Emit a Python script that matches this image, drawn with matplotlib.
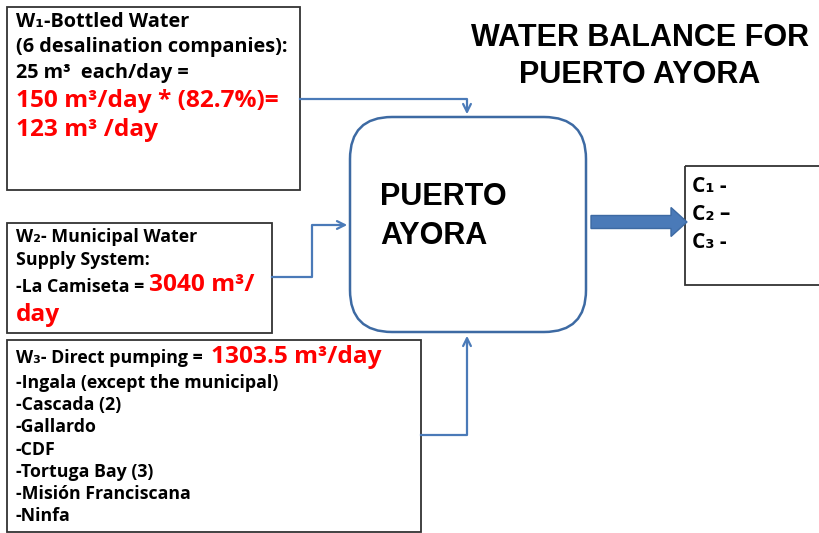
import matplotlib.pyplot as plt
from matplotlib.patches import FancyBboxPatch, Rectangle, FancyArrow

# values shown in the diagram
n_companies = 6
each_per_day = 25
bottled_total = 150
bottled_pct = 82.7
bottled_net = 123
municipal = 3040
direct_pumping = 1303.5
direct_sources = ['-Ingala (except the municipal)', '-Cascada (2)', '-Gallardo', '-CDF',
                  '-Tortuga Bay (3)', '-Misión Franciscana', '-Ninfa']
outputs = ['C₁ -', 'C₂ –', 'C₃ -']

body = ['Open Sans', 'DejaVu Sans']
head = ['Liberation Sans', 'DejaVu Sans']
blue = '#4a7ab8'
red = '#ff0000'

fig = plt.figure(figsize=(8.2, 5.33), dpi=100)
ax = fig.add_axes([0, 0, 1, 1])
ax.set_xlim(0, 820)
ax.set_ylim(533, 0)
ax.axis('off')

def box(x0, y0, x1, y1):
    ax.add_patch(Rectangle((x0, y0), x1 - x0, y1 - y0, fill=False, ec='#333333', lw=1.3))

def txt(x, y, s, size=13, color='black', fam=body):
    ax.text(x, y, s, fontsize=size, color=color, fontweight='bold', family=fam,
            ha='left', va='center')

# W1 box
box(7, 7, 300, 190)
txt(16, 22, 'W₁-Bottled Water', 14.3)
txt(16, 47, f'({n_companies} desalination companies):', 14.3)
txt(16, 73, f'{each_per_day} m³  each/day =', 14.3)
txt(16, 101, f'{bottled_total} m³/day * ({bottled_pct}%)=', 17.6, red)
txt(16, 130, f'{bottled_net} m³ /day', 17.6, red)

# W2 box
box(7, 223, 272, 333)
txt(16, 237, 'W₂- Municipal Water', 12.8)
txt(16, 260, 'Supply System:', 12.8)
txt(16, 287, '-La Camiseta =', 12.8)
txt(149, 285, f'{municipal} m³/', 17.6, red)
txt(16, 315, 'day', 17.6, red)

# W3 box
box(7, 340, 421, 532)
txt(16, 358, 'W₃- Direct pumping =', 12.8)
txt(211, 357, f'{direct_pumping} m³/day', 17.6, red)
for i, s in enumerate(direct_sources):
    txt(16, 383 + i * 22.2, s, 12.8)

# central node
ax.add_patch(FancyBboxPatch((390, 157), 156, 135, boxstyle='round,pad=40,rounding_size=42',
                            fill=False, ec='#3d6aa3', lw=1.8))
txt(380, 197, 'PUERTO', 22, fam=head)
txt(380, 236, 'AYORA', 22, fam=head)

# output box
box(685, 166, 822, 285)
for i, s in enumerate(outputs):
    txt(692, 186 + i * 28, s, 15)

# title
ax.text(640, 38, 'WATER BALANCE FOR', fontsize=22, fontweight='bold', family=head,
        ha='center', va='center')
ax.text(640, 75, 'PUERTO AYORA', fontsize=22, fontweight='bold', family=head,
        ha='center', va='center')

# connectors
akw = dict(arrowstyle='->', color=blue, lw=1.6, mutation_scale=14)
ax.plot([300, 467, 467], [99, 99, 108], color=blue, lw=1.6)
ax.annotate('', xy=(467, 117), xytext=(467, 105), arrowprops=akw)
ax.plot([272, 312, 312, 340], [277, 277, 225, 225], color=blue, lw=1.6)
ax.annotate('', xy=(350, 225), xytext=(336, 225), arrowprops=akw)
ax.plot([421, 467, 467], [435, 435, 345], color=blue, lw=1.6)
ax.annotate('', xy=(467, 333), xytext=(467, 348), arrowprops=akw)

# big output arrow
ax.add_patch(FancyArrow(591, 222, 80, 0, width=13, head_width=29, head_length=16,
                        length_includes_head=False, fc=blue, ec='#3d6aa3', lw=1))

fig.savefig('out.png', dpi=100)
